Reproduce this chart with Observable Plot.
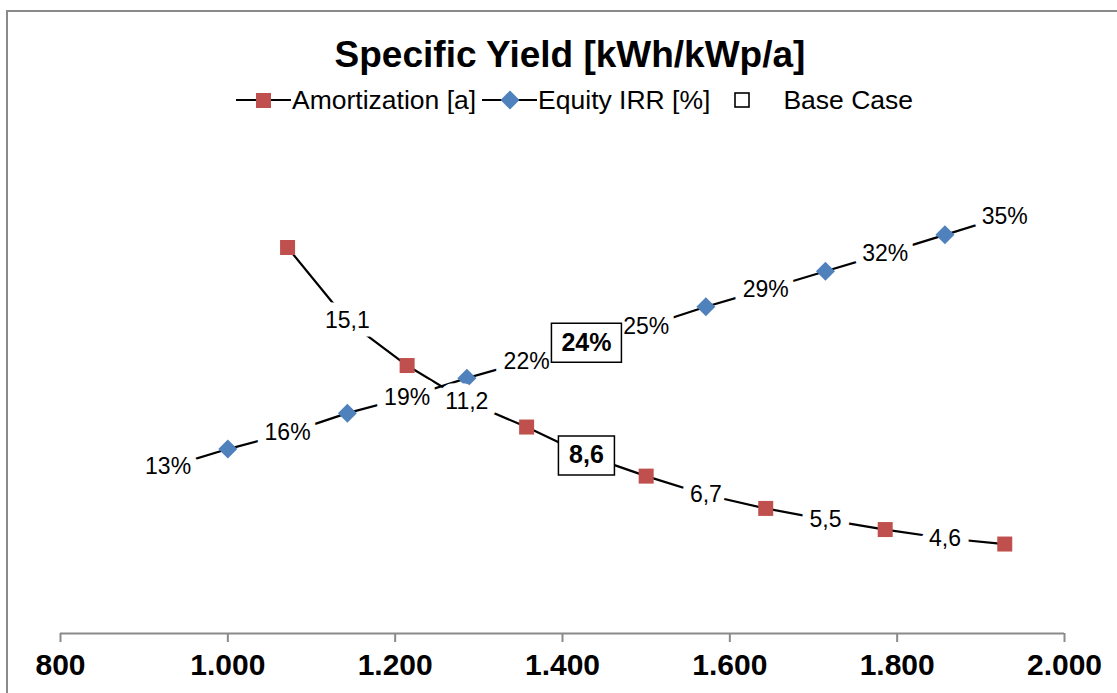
<!DOCTYPE html>
<html>
<head>
<meta charset="utf-8">
<script src="https://cdn.jsdelivr.net/npm/d3@7"></script>
<script src="https://cdn.jsdelivr.net/npm/@observablehq/plot@0.6"></script>
<style>
  html, body { margin: 0; padding: 0; width: 1117px; height: 693px; overflow: hidden; background: #fff; }
  body { position: relative; font-family: "Liberation Sans", Arial, sans-serif; }
  #frame { position: absolute; left: 6px; top: 10px; width: 1300px; height: 900px; border-left: 2px solid #8a8a8a; border-top: 2px solid #8a8a8a; }
  #title { position: absolute; left: 0; width: 1140px; top: 32px; text-align: center; font-weight: bold; font-size: 37px; line-height: 46px; color: #000; white-space: nowrap; }
  #legend { position: absolute; left: 236px; top: 85px; display: flex; align-items: center; font-size: 26.5px; line-height: 30px; color: #000; white-space: nowrap; }
  #legend .item { display: flex; align-items: center; }
  #legend svg { display: block; }
  #chart { position: absolute; left: 0; top: 0; }
</style>
</head>
<body>
<div id="frame"></div>
<div id="title"></div>
<div id="legend"></div>
<div id="chart"></div>
<script>
// ---- data ----
const chartTitle = "Specific Yield [kWh/kWp/a]";
const seriesNames = ["Amortization [a]", "Equity IRR [%]", "Base Case"];
const xTicks = [800, 1000, 1200, 1400, 1600, 1800, 2000];
const baseCaseYield = 1428.6;

// Amortization line: vertices alternate marker / labelled point
const amortYield = [1071.4, 1142.9, 1214.3, 1285.7, 1357.1, 1428.6, 1500, 1571.4, 1642.9, 1714.3, 1785.7, 1857.1, 1928.6];
const amortization = [18.64, 15.1, 12.94, 11.2, 9.97, 8.6, 7.6, 6.7, 6.04, 5.5, 5.02, 4.6, 4.32];

// Equity IRR line: vertices alternate labelled point / marker
const irrYield = [928.6, 1000, 1071.4, 1142.9, 1214.3, 1285.7, 1357.1, 1428.6, 1500, 1571.4, 1642.9, 1714.3, 1785.7, 1857.1, 1928.6];
const equityIRR = [13.0, 14.58, 15.98, 17.73, 19.13, 20.80, 22.29, 23.91, 25.35, 27.06, 28.6, 30.18, 31.75, 33.37, 35.0];

// hidden axes: primary (amortization, years) and secondary (IRR, %)
const amortAxis = [0, 24];
const irrAxis = [-1.6, 42];

const colors = { amort: "#C0504D", irr: "#4F81BD", line: "#000000", axis: "#8a8a8a" };

// ---- build tables ----
const toPrimary = d3.scaleLinear().domain(irrAxis).range(amortAxis);
const de = d3.formatLocale({ decimal: ",", thousands: ".", grouping: [3], currency: ["", "€"] });
const fmtX = de.format(",.0f");
const fmtA = de.format(".1f");
const fmtI = v => d3.format(".0f")(v) + "%";
const isBase = x => Math.abs(x - baseCaseYield) < 1;

const amortRows = amortYield.map((x, i) => ({ x, y: amortization[i], v: amortization[i], role: isBase(x) ? "base" : (i % 2 === 0 ? "marker" : "label") }));
const irrRows = irrYield.map((x, i) => ({ x, y: toPrimary(equityIRR[i]), v: equityIRR[i], role: isBase(x) ? "base" : (i % 2 === 1 ? "marker" : "label") }));

// custom symbols
const squareSym = { draw(ctx) { ctx.rect(-7.5, -7.5, 15, 15); } };
const diamondSym = { draw(ctx) { ctx.moveTo(0, -9.5); ctx.lineTo(9.5, 0); ctx.lineTo(0, 9.5); ctx.lineTo(-9.5, 0); ctx.closePath(); } };
const boxWide = { draw(ctx) { ctx.rect(-35, -19.5, 70, 39); } };
const boxNarrow = { draw(ctx) { ctx.rect(-28, -19.5, 56, 39); } };

const labelStyle = { fontSize: 23, fill: "#000", stroke: "white", strokeWidth: 17, strokeLinejoin: "round", paintOrder: "stroke" };

const plot = Plot.plot({
  width: 1117,
  height: 693,
  marginLeft: 60,
  marginRight: 53,
  marginTop: 136,
  marginBottom: 60,
  style: { background: "transparent", fontFamily: "'Liberation Sans', Arial, sans-serif", color: "#000" },
  x: { domain: [800, 2000], label: null },
  y: { domain: amortAxis, axis: null },
  marks: [
    Plot.ruleY([0], { stroke: colors.axis, strokeWidth: 2 }),
    Plot.axisX({ ticks: xTicks, tickFormat: fmtX, label: null, tickSize: 9, tickPadding: 11, stroke: colors.axis, strokeWidth: 2, fontSize: 30, fontWeight: "bold", fill: "#000" }),
    Plot.line(amortRows, { x: "x", y: "y", stroke: colors.line, strokeWidth: 2.2 }),
    Plot.line(irrRows, { x: "x", y: "y", stroke: colors.line, strokeWidth: 2.2 }),
    Plot.dot(amortRows.filter(d => d.role === "marker"), { x: "x", y: "y", symbol: squareSym, fill: colors.amort, r: 8 }),
    Plot.dot(irrRows.filter(d => d.role === "marker"), { x: "x", y: "y", symbol: diamondSym, fill: colors.irr, r: 8 }),
    Plot.text(amortRows.filter(d => d.role === "label"), { x: "x", y: "y", text: d => fmtA(d.v), ...labelStyle }),
    Plot.text(irrRows.filter(d => d.role === "label"), { x: "x", y: "y", text: d => fmtI(d.v), ...labelStyle }),
    Plot.dot(irrRows.filter(d => d.role === "base"), { x: "x", y: "y", symbol: boxWide, fill: "white", stroke: "#000", strokeWidth: 1.5, r: 8 }),
    Plot.dot(amortRows.filter(d => d.role === "base"), { x: "x", y: "y", symbol: boxNarrow, fill: "white", stroke: "#000", strokeWidth: 1.5, r: 8 }),
    Plot.text(irrRows.filter(d => d.role === "base"), { x: "x", y: "y", text: d => fmtI(d.v), fontSize: 25, fontWeight: "bold", fill: "#000" }),
    Plot.text(amortRows.filter(d => d.role === "base"), { x: "x", y: "y", text: d => fmtA(d.v), fontSize: 25, fontWeight: "bold", fill: "#000" })
  ]
});
document.getElementById("chart").appendChild(plot);

// ---- title & legend ----
document.getElementById("title").textContent = chartTitle;
const legend = d3.select("#legend");
function sample(item, kind) {
  if (kind === "box") {
    const s = item.append("svg").attr("width", 51).attr("height", 24).style("margin-left", "22px");
    s.append("rect").attr("x", 3).attr("y", 5).attr("width", 14).attr("height", 14).attr("fill", "white").attr("stroke", "#000").attr("stroke-width", 1.6);
    return;
  }
  const s = item.append("svg").attr("width", 56).attr("height", 24).style("margin-left", kind === "diamond" ? "6px" : "0px");
  s.append("line").attr("x1", 0).attr("x2", 55).attr("y1", 12).attr("y2", 12).attr("stroke", "#000").attr("stroke-width", 2);
  if (kind === "square") s.append("rect").attr("x", 20).attr("y", 5).attr("width", 15).attr("height", 15).attr("fill", colors.amort);
  else s.append("path").attr("d", "M28,2.5L37.5,12L28,21.5L18.5,12Z").attr("fill", colors.irr);
}
const kinds = ["square", "diamond", "box"];
seriesNames.forEach((name, i) => {
  const item = legend.append("div").attr("class", "item");
  sample(item, kinds[i]);
  item.append("span").text(name);
});
</script>
</body>
</html>
